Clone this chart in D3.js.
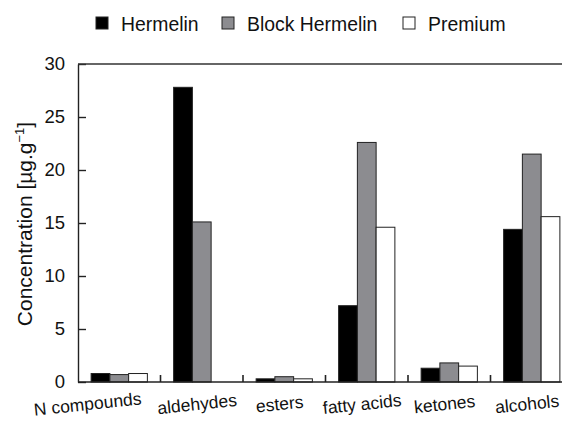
<!DOCTYPE html>
<html><head><meta charset="utf-8">
<script src="https://cdn.jsdelivr.net/npm/d3@7"></script>
<style>body{margin:0;background:#fff}svg{display:block}text{font-family:"Liberation Sans",Arial,sans-serif;fill:#111}</style>
</head><body>
<script>
const categories = ["N compounds","aldehydes","esters","fatty acids","ketones","alcohols"];
const seriesNames = ["Hermelin","Block Hermelin","Premium"];
const hermelin = [0.8, 27.8, 0.3, 7.2, 1.3, 14.4];
const blockHermelin = [0.7, 15.1, 0.5, 22.6, 1.8, 21.5];
const premium = [0.8, 0, 0.3, 14.6, 1.5, 15.6];
const yTicks = [0,5,10,15,20,25,30];
const colors = ["#000000","#8c8c90","#ffffff"];
const series = [hermelin, blockHermelin, premium];

(function(){
const W=562,H=425;
const svg=d3.select("body").append("svg").attr("width",W).attr("height",H);
const mLeft=78, mRight=573, mTop=64, mBottom=382;
const x=d3.scaleBand().domain(categories).range([mLeft,mRight]).paddingInner(0).paddingOuter(0);
const xs=d3.scaleBand().domain(seriesNames).range([0,x.bandwidth()]).paddingOuter(0.7).paddingInner(0);
const y=d3.scaleLinear().domain([0,30]).range([mBottom,mTop]);

categories.forEach((c,i)=>{
  seriesNames.forEach((s,j)=>{
    const v=series[j][i];
    if(v<=0) return;
    svg.append("rect").attr("x",x(c)+xs(s)).attr("y",y(v)).attr("width",xs.bandwidth()).attr("height",y(0)-y(v))
      .attr("fill",colors[j]).attr("stroke","#222").attr("stroke-width",1);
  });
});

const ya=svg.append("g").attr("transform",`translate(${mLeft},0)`).call(d3.axisLeft(y).tickValues(yTicks).tickSizeInner(-8).tickSizeOuter(0).tickPadding(13));
ya.select(".domain").attr("stroke","#222").attr("stroke-width",1.4);
ya.selectAll(".tick line").attr("stroke","#222").attr("stroke-width",1.4);
ya.selectAll(".tick text").style("font-size","18.5px").attr("fill","#111").attr("font-family",null);

svg.append("line").attr("x1",mLeft).attr("x2",W).attr("y1",mTop).attr("y2",mTop).attr("stroke","#333").attr("stroke-width",1.4);

svg.append("line").attr("x1",mLeft).attr("x2",W).attr("y1",mBottom).attr("y2",mBottom).attr("stroke","#222").attr("stroke-width",1.4);
categories.slice(1).forEach(c=>{
  svg.append("line").attr("x1",x(c)).attr("x2",x(c)).attr("y1",mBottom).attr("y2",mBottom-7).attr("stroke","#222").attr("stroke-width",1.6);
});
categories.forEach((c,i)=>{
  const cx=x(c)+x.bandwidth()/2+(i===0?-31:-4);
  svg.append("text").attr("transform",`translate(${cx},410) rotate(-6)`).attr("text-anchor","middle")
    .style("font-size","17.5px").text(c);
});

const yt=svg.append("text").attr("transform",`translate(32,224) rotate(-90)`).attr("text-anchor","middle").style("font-size","21px");
yt.append("tspan").text("Concentration [\u00b5g.g");
yt.append("tspan").attr("dy",-8).style("font-size","13px").text("\u22121");
yt.append("tspan").attr("dy",8).text("]");

const legX=[96,222,403];
seriesNames.forEach((s,j)=>{
  svg.append("rect").attr("x",legX[j]).attr("y",17).attr("width",12).attr("height",12).attr("fill",colors[j]).attr("stroke","#222").attr("stroke-width",1);
  svg.append("text").attr("x",legX[j]+25).attr("y",30.5).style("font-size","19.4px").text(s);
});
})();
</script>
</body></html>
